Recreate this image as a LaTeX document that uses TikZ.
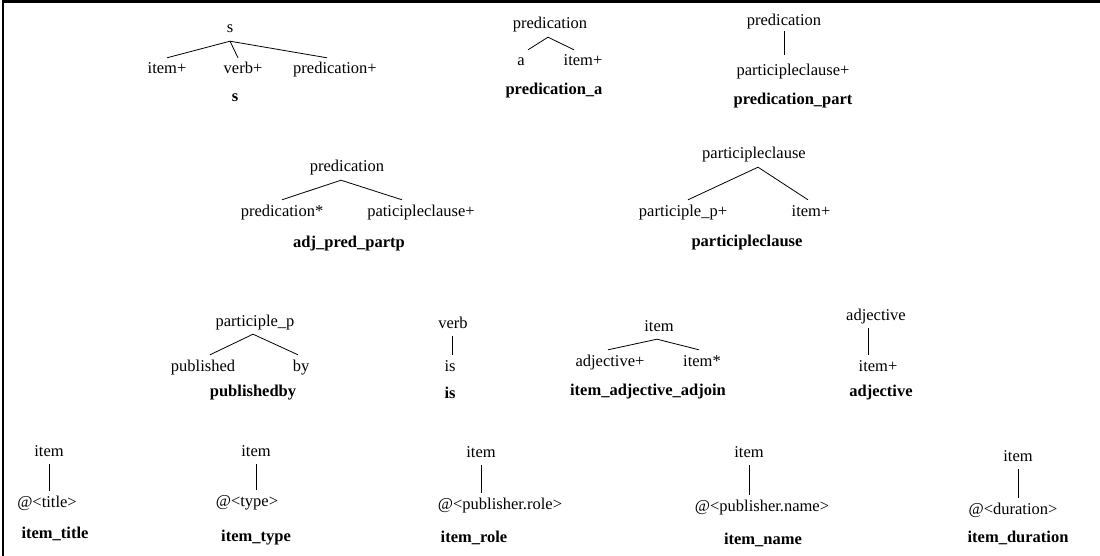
\documentclass[tikz,border=0pt]{standalone}
\usepackage{fontspec}
\setmainfont{Liberation Serif}

\tikzset{
    cat/.style={font=\fontsize{16.5}{19}\selectfont, text height=12pt, text depth=4pt, inner xsep=2pt, inner ysep=4pt},
    rulename/.style={font=\bfseries\fontsize{16.5}{19}\selectfont, inner sep=2pt},
    branch/.style={line width=0.8pt}
}

\begin{document}
\begin{tikzpicture}[x=1pt,y=-1pt]
        \useasboundingbox (0,0) rectangle (1100,556);

        % Frame (top and left edge only)
        \draw[line width=2.5pt] (1100,1.5) -- (3,1.5) -- (3,556);

        % Rule s
        \node[cat] (s) at (230,29) {s};
        \node[cat] (sItem) at (167,70) {item+};
        \node[cat] (sVerb) at (243,70) {verb+};
        \node[cat] (sPred) at (335,70) {predication+};
        \node[rulename] (sName) at (235,98) {s};
        \draw[branch] (sItem.north) -- (s.south) -- ([xshift=-5pt]sVerb.north);
        \draw[branch] (s.south) -- ([xshift=-8pt]sPred.north);

        % Rule predication_a
        \node[cat] (pa) at (550,25) {predication};
        \node[cat] (paA) at (521,62) {a};
        \node[cat] (paItem) at (583,62) {item+};
        \node[rulename] (paName) at (554,91) {predication\_a};
        \draw[branch] ([xshift=7pt]paA.north) -- ([xshift=-2pt]pa.south) -- ([xshift=-9pt]paItem.north);

        % Rule predication_part
        \node[cat] (pp) at (784,22) {predication};
        \node[cat] (ppClause) at (793,72) {participleclause+};
        \node[rulename] (ppName) at (793,101) {predication\_part};
        \draw[branch] ([yshift=3pt]pp.south) -- ([yshift=5pt]pp.south |- ppClause.north);

        % Rule adj_pred_partp
        \node[cat] (ap) at (347,168) {predication};
        \node[cat] (apPred) at (282,212) {predication*};
        \node[cat] (apClause) at (421,212) {paticipleclause+};
        \node[rulename] (apName) at (349,244) {adj\_pred\_partp};
        \draw[branch] (apPred.north) -- ([xshift=-6pt]ap.south) -- ([xshift=-19pt]apClause.north);

        % Rule participleclause
        \node[cat] (pc) at (754,155) {participleclause};
        \node[cat] (pcPart) at (683,212) {participle\_p+};
        \node[cat] (pcItem) at (811,212) {item+};
        \node[rulename] (pcName) at (747,243) {participleclause};
        \draw[branch] ([xshift=5pt]pcPart.north) -- ([xshift=4pt]pc.south) -- ([xshift=-3pt]pcItem.north);

        % Rule publishedby
        \node[cat] (pb) at (255,322) {participle\_p};
        \node[cat] (pbPub) at (203,367) {published};
        \node[cat] (pbBy) at (301,367) {by};
        \node[rulename] (pbName) at (253,393) {publishedby};
        \draw[branch] ([xshift=7pt]pbPub.north) -- ([xshift=-2pt]pb.south) -- ([xshift=-3pt]pbBy.north);

        % Rule is
        \node[cat] (vb) at (453,324) {verb};
        \node[cat] (vbIs) at (450,367) {is};
        \node[rulename] (vbName) at (450,393) {is};
        \draw[branch] ([xshift=-1pt]vb.south) -- ([xshift=-1pt]vb.south |- vbIs.north);

        % Rule item_adjective_adjoin
        \node[cat] (ia) at (659,327) {item};
        \node[cat] (iaAdj) at (610,362) {adjective+};
        \node[cat] (iaItem) at (702,362) {item*};
        \node[rulename] (iaName) at (648,392) {item\_adjective\_adjoin};
        \draw[branch] ([xshift=-2pt]iaAdj.north) -- ([xshift=-2pt]ia.south) -- ([xshift=-3pt]iaItem.north);

        % Rule adjective
        \node[cat] (ad) at (876,316) {adjective};
        \node[cat] (adItem) at (878,367) {item+};
        \node[rulename] (adName) at (881,393) {adjective};
        \draw[branch] ([xshift=-8pt]ad.south) -- ([xshift=-8pt]ad.south |- adItem.north);

        % Item rules (bottom row)
        \foreach \n/\rx/\ry/\cx/\cy/\tx/\ty/\leaf in {
            title/49/452/47/503/55/534/title,
            type/256/452/247/502/256/538/type,
            role/481/453/500/505/474/538/publisher.role,
            name/749/453/762/507/763/540/publisher.name,
            duration/1018/457/1013/510/1018/538/duration} {
            \node[cat] (r\n) at (\rx,\ry) {item};
            \node[cat] (c\n) at (\cx,\cy) {@<\leaf>};
            \node[rulename] (t\n) at (\tx,\ty) {item\_\n};
            \draw[branch] (r\n.south) -- (r\n.south |- c\n.north);
        }

    \end{tikzpicture}
\end{document}
